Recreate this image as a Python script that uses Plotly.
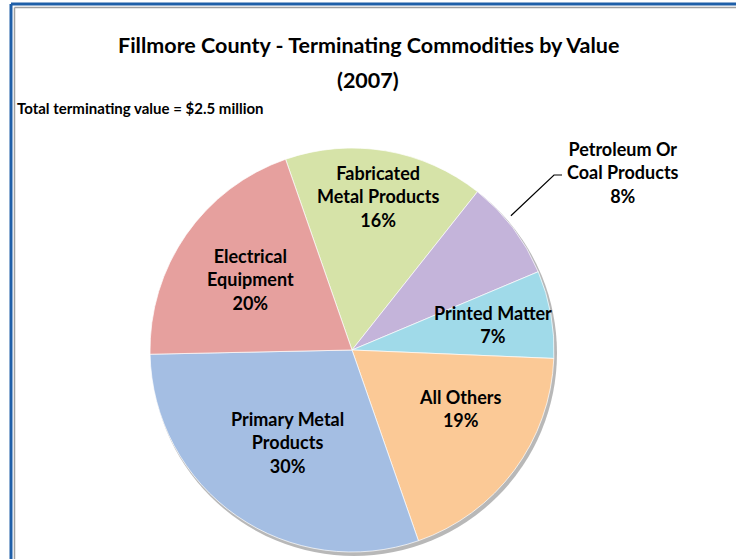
import math
import plotly.graph_objects as go

# ---- data ----
categories = ["Fabricated Metal Products", "Petroleum Or Coal Products", "Printed Matter",
              "All Others", "Primary Metal Products", "Electrical Equipment"]
display_labels = ["Fabricated<br>Metal Products", "Petroleum Or<br>Coal Products", "Printed Matter",
                  "All Others", "Primary Metal<br>Products", "Electrical<br>Equipment"]
shares = [16, 8, 7, 19, 30, 20]
colors = ["#D6E3A8", "#C4B4DA", "#A0DAE9", "#FBC996", "#A4BEE3", "#E6A09E"]
title_lines = ["Fillmore County - Terminating Commodities by Value", "(2007)"]
subtitle_text = "<b>Total terminating value = $2.5 million</b>"

W, H = 736, 559
FONT = "Lato"

# pie geometry (pixels)
cx, cy, R = 352, 350, 202
start_angle = -19.2  # degrees clockwise from 12 o'clock where first slice begins
# label placement: (radius fraction, angle offset in degrees); None = outside label
label_place = [(0.77, 0), None, (0.71, 0), (0.61, -8), (0.56, 0), (0.61, 0)]


def px(x):
    return x / W


def py(y):
    return 1 - y / H


fig = go.Figure()
fig.add_trace(go.Pie(
    labels=categories,
    values=shares,
    sort=False,
    direction="clockwise",
    rotation=start_angle,
    marker=dict(colors=colors, line=dict(color="rgba(255,255,255,0.7)", width=1)),
    textinfo="none",
    hoverinfo="label+percent",
    showlegend=False,
    domain=dict(x=[px(cx - R), px(cx + R)], y=[py(cy + R), py(cy - R)]),
))

LABEL_FONT = dict(family=FONT, size=18, color="black")
annotations = []
total = sum(shares)
acc = start_angle
for i, v in enumerate(shares):
    span = v / total * 360
    mid_deg = acc + span / 2
    acc += span
    txt = "<b>%s<br>%d%%</b>" % (display_labels[i], v)
    if label_place[i] is None:
        mid = math.radians(mid_deg - 3)
        ex = cx + R * 1.03 * math.sin(mid)
        ey = cy - R * 1.03 * math.cos(mid)
        lx, ly = 554, 175
        fig.add_shape(type="path", xref="paper", yref="paper",
                      path="M %f %f L %f %f L %f %f" % (px(ex), py(ey), px(lx), py(ly), px(lx + 8), py(ly)),
                      line=dict(color="black", width=1.2))
        annotations.append(dict(x=px(623), y=py(172), xref="paper", yref="paper", text=txt,
                                showarrow=False, font=LABEL_FONT,
                                xanchor="center", yanchor="middle"))
    else:
        frac, off = label_place[i]
        a = math.radians(mid_deg + off)
        r = R * frac
        annotations.append(dict(x=px(cx + r * math.sin(a)), y=py(cy - r * math.cos(a)),
                                xref="paper", yref="paper", text=txt, showarrow=False,
                                font=LABEL_FONT, xanchor="center", yanchor="middle"))

annotations.append(dict(x=px(368), y=py(45), xref="paper", yref="paper", text="<b>%s</b>" % title_lines[0],
                        showarrow=False, font=dict(family=FONT, size=21.5, color="black"),
                        xanchor="center", yanchor="middle"))
annotations.append(dict(x=px(368), y=py(80), xref="paper", yref="paper", text="<b>%s</b>" % title_lines[1],
                        showarrow=False, font=dict(family=FONT, size=21.5, color="black"),
                        xanchor="center", yanchor="middle"))
annotations.append(dict(x=px(15), y=py(108), xref="paper", yref="paper", text=subtitle_text,
                        showarrow=False, font=dict(family=FONT, size=15, color="black"),
                        xanchor="left", yanchor="middle"))

shapes = [
    # drop shadow under pie
    dict(type="circle", xref="paper", yref="paper", layer="below",
         x0=px(cx - R + 1), x1=px(cx + R + 3), y0=py(cy + R + 4), y1=py(cy - R + 2),
         fillcolor="rgba(0,0,0,0.28)", line=dict(width=0)),
    # frame: blue outer, gray inner (left and top edges)
    dict(type="line", xref="paper", yref="paper", x0=px(11), x1=px(11), y0=0, y1=py(4),
         line=dict(color="#1F5FA8", width=3)),
    dict(type="line", xref="paper", yref="paper", x0=px(11), x1=1, y0=py(4), y1=py(4),
         line=dict(color="#1F5FA8", width=3)),
    dict(type="line", xref="paper", yref="paper", x0=px(14.5), x1=px(14.5), y0=0, y1=py(7.5),
         line=dict(color="#A0A0A0", width=1.5)),
    dict(type="line", xref="paper", yref="paper", x0=px(14.5), x1=1, y0=py(7.5), y1=py(7.5),
         line=dict(color="#A0A0A0", width=1.5)),
]
for s in shapes:
    fig.add_shape(**s)

fig.update_layout(
    width=W, height=H,
    margin=dict(l=0, r=0, t=0, b=0),
    paper_bgcolor="white",
    plot_bgcolor="white",
    annotations=annotations,
    font=dict(family=FONT),
)

fig.write_html("out.html", config={"displayModeBar": False},
               post_script="document.body.style.margin='0';document.body.style.overflow='hidden';")
